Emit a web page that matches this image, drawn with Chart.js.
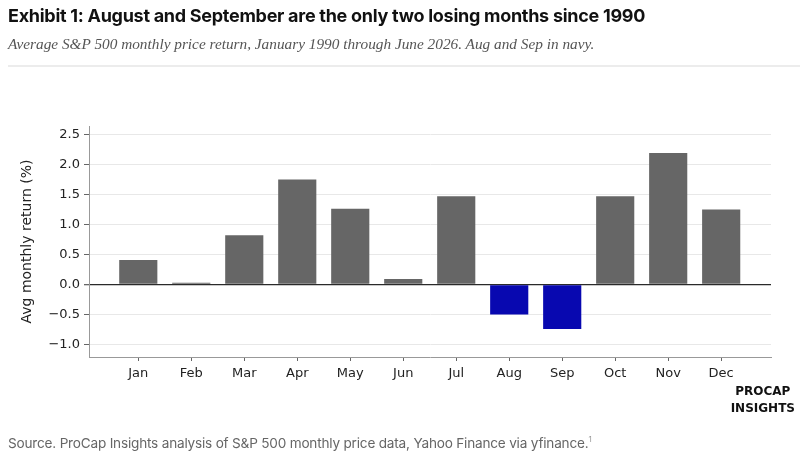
<!DOCTYPE html>
<html>
<head>
    <title>Exhibit 1: Average S&amp;P 500 monthly price return</title>
    <script src="https://cdn.jsdelivr.net/npm/chart.js"></script>
    <style>
        body {
            margin: 0;
            background-color: #ffffff;
        }
        .page {
            position: relative;
            width: 800px;
            height: 462px;
            overflow: hidden;
        }
        .chart-box {
            position: absolute;
            left: 0;
            top: 0;
            width: 800px;
            height: 462px;
        }
        .title {
            position: absolute;
            left: 8px;
            top: 5px;
            font-family: Inter, sans-serif;
            font-weight: 700;
            font-size: 18px;
            letter-spacing: -0.28px;
            color: #111111;
            white-space: nowrap;
        }
        .subtitle {
            position: absolute;
            left: 8px;
            top: 35px;
            font-family: "Liberation Serif", serif;
            font-style: italic;
            font-size: 15.3px;
            color: #555555;
            white-space: nowrap;
        }
        .rule {
            position: absolute;
            left: 8px;
            right: 0;
            top: 65px;
            height: 2px;
            background-color: #ececec;
        }
        .brand {
            position: absolute;
            right: 5px;
            top: 383px;
            font-family: "DejaVu Sans", sans-serif;
            font-weight: 700;
            font-size: 12px;
            line-height: 17px;
            text-align: center;
            color: #111111;
        }
        .source {
            position: absolute;
            left: 8px;
            top: 434px;
            font-family: Inter, sans-serif;
            font-size: 13.6px;
            letter-spacing: -0.2px;
            color: #666666;
            white-space: nowrap;
        }
        .source sup {
            font-size: 8px;
            color: #999999;
        }
    </style>
</head>
<body>
    <div class="page">
        <div class="chart-box">
            <canvas id="monthChart"></canvas>
        </div>
        <div class="title">Exhibit 1: August and September are the only two losing months since 1990</div>
        <div class="subtitle">Average S&amp;P 500 monthly price return, January 1990 through June 2026. Aug and Sep in navy.</div>
        <div class="rule"></div>
        <div class="brand">PROCAP<br>INSIGHTS</div>
        <div class="source">Source. ProCap Insights analysis of S&amp;P 500 monthly price data, Yahoo Finance via yfinance.<sup>1</sup></div>
    </div>

    <script>
        const months = ['Jan', 'Feb', 'Mar', 'Apr', 'May', 'Jun', 'Jul', 'Aug', 'Sep', 'Oct', 'Nov', 'Dec'];
        const avgReturn = [0.41, 0.03, 0.82, 1.75, 1.26, 0.09, 1.47, -0.50, -0.74, 1.47, 2.19, 1.25];
        const yTicks = [-1.0, -0.5, 0.0, 0.5, 1.0, 1.5, 2.0, 2.5];
        const navyMonths = ['Aug', 'Sep'];

        const gray = '#666666';
        const navy = '#0808b0';

        const ctx = document.getElementById('monthChart').getContext('2d');

        const barData = months.map((m, i) => ({ x: i, y: avgReturn[i] }));
        const barColors = months.map(m => navyMonths.includes(m) ? navy : gray);

        const monthChart = new Chart(ctx, {
            type: 'bar',
            data: {
                datasets: [{
                    label: 'Avg monthly return (%)',
                    data: barData,
                    backgroundColor: barColors,
                    borderWidth: 0,
                    barPercentage: 0.72,
                    categoryPercentage: 1.0
                }]
            },
            options: {
                responsive: true,
                maintainAspectRatio: false,
                animation: false,
                layout: {
                    padding: { left: 0, right: 29, top: 126, bottom: 65 }
                },
                plugins: {
                    legend: { display: false },
                    tooltip: { enabled: false }
                },
                scales: {
                    x: {
                        type: 'linear',
                        min: -0.93,
                        max: 11.94,
                        offset: false,
                        afterBuildTicks: scale => {
                            scale.ticks = months.map((m, i) => ({ value: i }));
                        },
                        afterFit: scale => {
                            scale.height = 40;
                        },
                        ticks: {
                            autoSkip: false,
                            maxRotation: 0,
                            padding: 5,
                            color: '#222222',
                            font: { family: 'DejaVu Sans', size: 13 },
                            callback: value => months[value]
                        },
                        grid: {
                            offset: false,
                            drawOnChartArea: false,
                            tickLength: 4,
                            tickColor: '#666666'
                        },
                        border: { color: '#999999', width: 1 }
                    },
                    y: {
                        min: -1.207,
                        max: 2.64,
                        afterBuildTicks: scale => {
                            scale.ticks = yTicks.map(v => ({ value: v }));
                        },
                        afterFit: scale => {
                            scale.width = 89;
                        },
                        ticks: {
                            padding: 4,
                            color: '#222222',
                            font: { family: 'DejaVu Sans', size: 13 },
                            callback: value => value.toFixed(1).replace('-', '\u2212')
                        },
                        grid: {
                            color: c => c.tick && c.tick.value === 0 ? '#2a2a2a' : '#e8e8e8',
                            lineWidth: c => c.tick && c.tick.value === 0 ? 1.3 : 1,
                            tickLength: 5,
                            tickColor: '#666666'
                        },
                        border: { color: '#999999', width: 1 },
                        title: {
                            display: true,
                            text: 'Avg monthly return (%)',
                            color: '#222222',
                            font: { family: 'DejaVu Sans', size: 14 },
                            padding: { top: 19, bottom: 0 }
                        }
                    }
                }
            }
        });
    </script>
</body>
</html>
